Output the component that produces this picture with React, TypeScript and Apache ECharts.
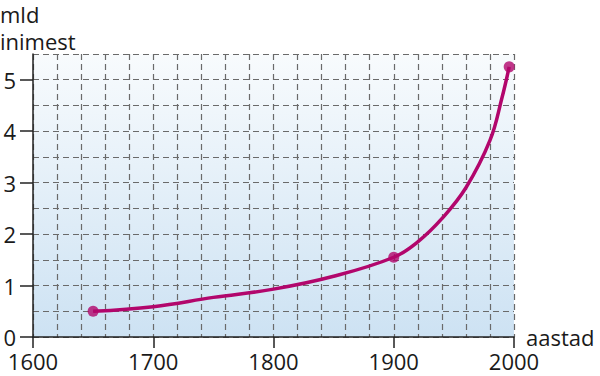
import React, { useEffect, useRef } from "react";
import * as echarts from "echarts";

const curveYears = [1650, 1700, 1750, 1800, 1850, 1900, 1920, 1940, 1960, 1980, 1990, 1996];
const curveValues = [0.5, 0.59, 0.77, 0.93, 1.18, 1.55, 1.85, 2.3, 2.9, 3.82, 4.65, 5.25];
const markYears = [1650, 1900, 1996];
const markValues = [0.5, 1.55, 5.25];
const yTickLabels = [0, 1, 2, 3, 4, 5];

const FONT = "Open Sans";
const LINE = "#b2066c";
const GRID = "#6a6a6a";
const INK = "#1a1a1a";

export default function App() {
  const ref = useRef<HTMLDivElement>(null);
  useEffect(() => {
    if (!ref.current) return;
    const chart = echarts.init(ref.current, undefined, { renderer: "svg" });
    const gridLine = { show: true, lineStyle: { color: GRID, type: [6, 4], width: 1.2 } };
    chart.setOption({
      animation: false,
      textStyle: { fontFamily: FONT },
      graphic: [
        {
          type: "text",
          left: 0,
          top: 0,
          style: {
            text: "mld\ninimest",
            font: `22px "${FONT}"`,
            fill: INK,
            lineHeight: 27,
          },
        },
      ],
      grid: {
        left: 33,
        right: 86,
        top: 54,
        bottom: 39,
        show: true,
        borderWidth: 0,
        backgroundColor: new echarts.graphic.LinearGradient(0, 0, 0, 1, [
          { offset: 0, color: "#f8fbfd" },
          { offset: 1, color: "#cde2f3" },
        ]),
      },
      xAxis: [
        {
          type: "value",
          min: 1600,
          max: 2000,
          interval: 20,
          position: "bottom",
          axisLine: { show: true, lineStyle: { color: "#222", width: 1.5 } },
          axisTick: { show: false },
          axisLabel: { show: false },
          splitLine: gridLine,
        },
        {
          type: "value",
          min: 1600,
          max: 2000,
          interval: 100,
          position: "bottom",
          name: "aastad",
          nameLocation: "end",
          nameGap: 12,
          nameTextStyle: { fontFamily: FONT, fontSize: 22, color: INK, verticalAlign: "middle" },
          axisLine: { show: false },
          axisTick: { show: true, length: 11, lineStyle: { color: "#222", width: 1.5 } },
          axisLabel: {
            fontFamily: FONT,
            fontSize: 22,
            lineHeight: 18,
            color: INK,
            margin: 15,
            formatter: (v: number) => String(v),
          },
          splitLine: { show: false },
        },
      ],
      yAxis: [
        {
          type: "value",
          min: 0,
          max: 5.5,
          interval: 0.5,
          position: "left",
          axisLine: { show: true, lineStyle: { color: "#222", width: 1.5 } },
          axisTick: { show: false },
          axisLabel: { show: false },
          splitLine: gridLine,
        },
        {
          type: "value",
          min: 0,
          max: 5.5,
          interval: 1,
          position: "left",
          axisLine: { show: false },
          axisTick: {
            show: true,
            length: 13,
            customValues: yTickLabels,
            lineStyle: { color: "#222", width: 1.5 },
          },
          axisLabel: {
            customValues: yTickLabels,
            fontFamily: FONT,
            fontSize: 22,
            lineHeight: 18,
            color: INK,
            margin: 17,
          },
          splitLine: { show: false },
        },
      ],
      series: [
        {
          type: "line",
          data: curveYears.map((y, i) => [y, curveValues[i]]),
          smooth: 0.4,
          showSymbol: false,
          lineStyle: { color: LINE, width: 3.5 },
          z: 3,
        },
        {
          type: "scatter",
          data: markYears.map((y, i) => [y, markValues[i]]),
          symbolSize: 11,
          itemStyle: { color: LINE },
          z: 4,
        },
      ],
    });
    return () => chart.dispose();
  }, []);
  return <div ref={ref} style={{ width: 600, height: 376, position: "absolute", left: 0, top: 0 }} />;
}
